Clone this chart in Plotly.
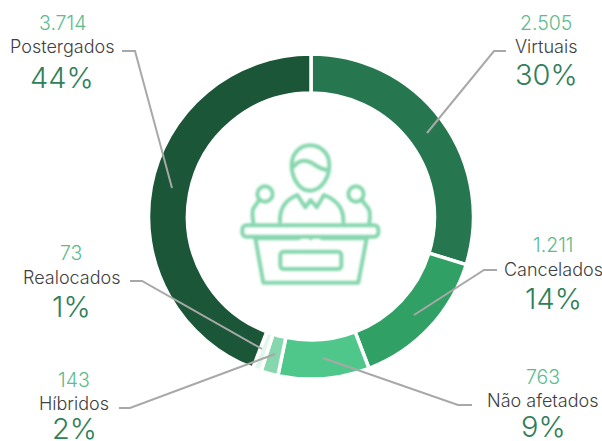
import base64
import plotly.graph_objects as go

W, H = 602, 441

categories = ["Virtuais", "Cancelados", "Não afetados", "Híbridos", "Realocados", "Postergados"]
values = [2505, 1211, 763, 143, 73, 3714]
value_labels = ["2.505", "1.211", "763", "143", "73", "3.714"]
pct_labels = ["30%", "14%", "9%", "2%", "1%", "44%"]
colors = ["#26764f", "#31a065", "#4fc78a", "#86d7ae", "#e3f5ec", "#1c5638"]

# label layout (centre x, y of number, y of name, y of percent)
label_pos = [
    (546, 23, 47, 75),
    (553, 245, 269, 298),
    (543, 377, 400, 426),
    (74, 380, 403, 428),
    (71, 253, 277, 306),
    (62, 23, 47, 78),
]
leaders = [
    [(506, 51), (494, 51), (427, 133)],
    [(497, 270), (484, 270), (414, 315)],
    [(472, 405), (458, 405), (323, 358)],
    [(119, 408), (130, 408), (275, 354)],
    [(130, 281), (142, 281), (262, 349)],
    [(122, 51), (135, 51), (172, 188)],
]

FONT = "Inter, 'Open Sans', sans-serif"


def px(x):
    return x / W


def py(y):
    return 1 - y / H


fig = go.Figure(
    go.Pie(
        labels=categories,
        values=values,
        hole=0.76,
        sort=False,
        direction="clockwise",
        rotation=0,
        textinfo="none",
        marker=dict(colors=colors, line=dict(color="#ffffff", width=3.5)),
        domain=dict(x=[px(148), px(474)], y=[py(379), py(54)]),
        showlegend=False,
        hoverinfo="none",
    )
)

for (cx, y1, y2, y3), name, num, pct in zip(label_pos, categories, value_labels, pct_labels):
    for y, txt, size, c in (
        (y1, num, 19.5, "#5dbb8d"),
        (y2, name, 18, "#404040"),
        (y3, pct, 29, "#2f8059"),
    ):
        fig.add_annotation(
            x=px(cx), y=py(y), xref="paper", yref="paper", text=txt, showarrow=False,
            xanchor="center", yanchor="middle",
            font=dict(family=FONT, size=size, color=c, weight=300),
        )

for pts in leaders:
    path = "M " + " L ".join(f"{px(x):.5f},{py(y):.5f}" for x, y in pts)
    fig.add_shape(type="path", path=path, xref="paper", yref="paper",
                  line=dict(color="#a8a8a8", width=2), layer="above")

icon = """<svg xmlns="http://www.w3.org/2000/svg" viewBox="0 0 600 540" width="600" height="540">
<defs><filter id="b" x="-5%" y="-5%" width="110%" height="110%"><feGaussianBlur stdDeviation="2.6"/></filter></defs>
<g filter="url(#b)">
<g fill="none" stroke="#86d7ae" stroke-width="12" stroke-linecap="round" stroke-linejoin="round">
<path d="M275 135 C275 100 300 76 330 76 C362 76 388 100 388 135 C388 175 362 212 330 212 C298 212 275 175 275 135 Z"/>
<path d="M280 140 C300 115 325 120 345 135 C360 145 375 150 386 150"/>
<path d="M240 305 C238 265 255 240 292 225 L316 262 L332 240 L350 262 L372 225 C410 240 432 265 430 305"/>
<circle cx="195" cy="222" r="23"/>
<path d="M178 240 L160 265 C155 275 158 295 160 308"/>
<circle cx="468" cy="222" r="23"/>
<path d="M485 240 L505 265 C512 275 510 295 508 308"/>
<rect x="127" y="316" width="408" height="34" rx="12"/>
<path d="M165 355 H296"/><path d="M366 355 H500"/>
<path d="M166 355 L190 488 H475 L500 355"/>
<rect x="241" y="395" width="183" height="52" rx="10"/>
</g>
<circle cx="332" cy="355" r="6" fill="#86d7ae"/>
</g>
</svg>"""
src = "data:image/svg+xml;base64," + base64.b64encode(icon.encode()).decode()
fig.add_layout_image(source=src, xref="paper", yref="paper", x=px(200), y=py(120),
                     sizex=200 / W, sizey=180 / H, xanchor="left", yanchor="top",
                     sizing="stretch", layer="above")

fig.update_layout(width=W, height=H, margin=dict(l=0, r=0, t=0, b=0),
                  paper_bgcolor="#ffffff", plot_bgcolor="#ffffff", font=dict(family=FONT))
fig.write_html("out.html", config={"displayModeBar": False},
               post_script="document.body.style.margin='0';document.documentElement.style.overflow='hidden';")
